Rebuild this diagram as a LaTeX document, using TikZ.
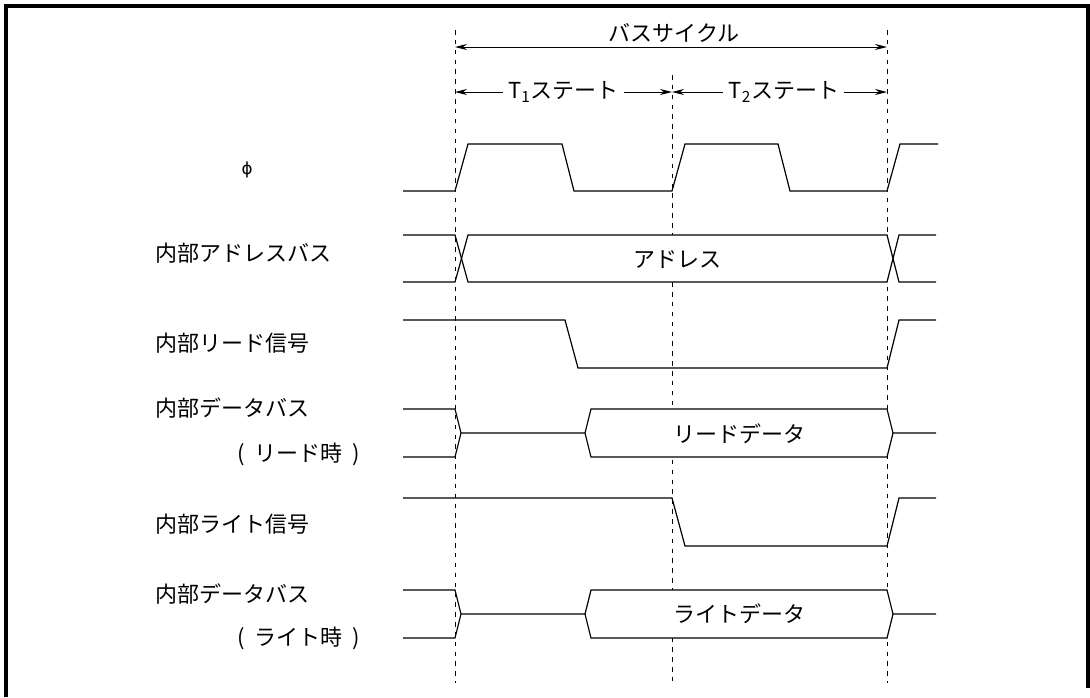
\documentclass[tikz,border=0pt]{standalone}
\usepackage{fontspec}
\setmainfont{Noto Sans CJK JP}
\newfontfamily\symfont{DejaVu Sans}
\usetikzlibrary{arrows.meta,positioning}

\begin{document}
\begin{tikzpicture}[x=0.75pt,y=-0.75pt,
    every node/.style={font=\fontsize{16.5}{18}\selectfont,inner sep=0pt},
    sig/.style={line width=0.9pt},
    guide/.style={line width=0.5pt,dash pattern=on 3.4pt off 4pt},
    span/.style={line width=0.7pt,{Stealth[length=9pt,width=4.5pt]}-{Stealth[length=9pt,width=4.5pt]}},
    lbl/.style={anchor=west}]
      \useasboundingbox (0,0) rectangle (1090,697);
      \draw[line width=2.4pt] (6,697) -- (6,6) -- (1088,6) -- (1088,688);

      \coordinate (b1) at (455,47);
      \coordinate (b2) at (887,47);
      \coordinate (t0) at (455,92);
      \coordinate (t1) at (672,92);
      \coordinate (t2) at (887,92);

      \draw[guide] (455,30) -- (455,683);
      \draw[guide] (672,75) -- (672,683);
      \draw[guide] (887,30) -- (887,683);

      \node (bus) at (674,33) {バスサイクル};
      \draw[span] (b1) -- (b2);
      \draw[span] (t0) -- node[fill=white,inner xsep=4pt,inner ysep=2pt] (s1) {T\textsubscript{1}ステート} (t1);
      \draw[span] (t1) -- node[pos=0.52,fill=white,inner xsep=4pt,inner ysep=2pt] (s2) {T\textsubscript{2}ステート} (t2);

      \node[font=\symfont\fontsize{12.5}{14}\selectfont] (phi) at (247,170) {ϕ};
      \node[lbl] (ab) at (155,253) {内部アドレスバス};
      \node[lbl] (rd) at (155,343) {内部リード信号};
      \node[lbl] (db1) at (155,408) {内部データバス};
      \node (rt) at (299,454) {(\hspace{0.45em}リード時\hspace{0.45em})};
      \node[lbl] (wr) at (155,524) {内部ライト信号};
      \node[lbl] (db2) at (155,594) {内部データバス};
      \node (wt) at (299,638) {(\hspace{0.45em}ライト時\hspace{0.45em})};

      % clock
      \draw[sig] (403,191) -- (455,191) -- (468,144) -- (562,144) -- (574,191) -- (672,191) -- (685,144)
        -- (778,144) -- (790,191) -- (887,191) -- (900,144) -- (938,144);

      % address bus
      \fill[white] (461,258.5) -- (468,235) -- (887,235) -- (893,258.5) -- (887,282) -- (468,282) -- cycle;
      \draw[sig] (403,235) -- (455,235) -- (468,282) -- (887,282) -- (899,235) -- (936,235);
      \draw[sig] (403,282) -- (455,282) -- (468,235) -- (887,235) -- (899,282) -- (936,282);
      \node (addr) at (677,259) {アドレス};

      % read
      \draw[sig] (403,320) -- (565,320) -- (578,368) -- (887,368) -- (899,320) -- (936,320);
      \draw[sig] (403,409) -- (455,409) -- (461,433) -- (455,457) -- (403,457);
      \fill[white] (585,433) -- (591,409) -- (887,409) -- (893,433) -- (887,457) -- (591,457) -- cycle;
      \draw[sig] (461,433) -- (585,433) -- (591,409) -- (887,409) -- (893,433) -- (936,433);
      \draw[sig] (585,433) -- (591,457) -- (887,457) -- (893,433);
      \node (rdata) at (739,434) {リードデータ};

      % write
      \draw[sig] (403,498) -- (672,498) -- (685,546) -- (887,546) -- (899,498) -- (936,498);
      \draw[sig] (403,590) -- (455,590) -- (461,614) -- (455,638) -- (403,638);
      \fill[white] (585,614) -- (591,590) -- (887,590) -- (893,614) -- (887,638) -- (591,638) -- cycle;
      \draw[sig] (461,614) -- (585,614) -- (591,590) -- (887,590) -- (893,614) -- (936,614);
      \draw[sig] (585,614) -- (591,638) -- (887,638) -- (893,614);
      \node (wdata) at (739,614) {ライトデータ};
    \end{tikzpicture}
\end{document}
